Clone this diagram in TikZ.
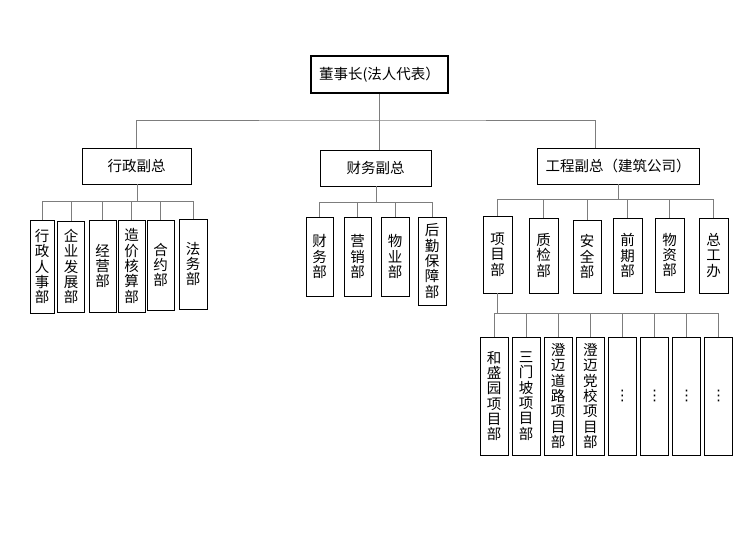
\documentclass[tikz,border=0pt]{standalone}
\usepackage{fontspec}
\setmainfont{Noto Sans CJK SC}
\newfontfamily\symfont{DejaVu Sans}
\usetikzlibrary{positioning}
\definecolor{linkGray}{RGB}{125,125,125}

\begin{document}
\begin{tikzpicture}[
    x=1pt, y=-1pt,
    node distance=3.2pt,
    chair/.style={
      rectangle, draw=black, line width=2pt, inner sep=0pt,
      minimum width=137pt, minimum height=37pt, font=\fontsize{14.5}{15.3}\selectfont
    },
    vpbox/.style={
      rectangle, draw=black, line width=0.9pt, inner sep=0pt,
      minimum height=36pt, font=\fontsize{14.5}{15.3}\selectfont
    },
    dept/.style={
      rectangle, draw=black, line width=0.9pt, inner sep=0pt, align=center,
      minimum width=27pt, font=\fontsize{14.5}{15.3}\selectfont
    },
    proj/.style={dept, minimum width=28pt, minimum height=118pt},
    more/.style={proj, font=\symfont\fontsize{14.5}{15.3}\selectfont},
    link/.style={draw=linkGray, line width=0.8pt}
  ]
    \useasboundingbox (0,0) rectangle (752,551);

    \node[chair] (chair) at (379.5,74.5) {董事长(法人代表）};

    \node[vpbox, minimum width=109pt] (vpadmin) at (136.5,166) {行政副总};
    \node[vpbox, minimum width=111pt] (vpfin) at (375.5,168) {财务副总};
    \node[vpbox, minimum width=162pt] (vpeng) at (618,166) {工程副总（建筑公司）};

    % 行政副总 departments
    \node[dept, minimum width=24pt, minimum height=93pt] (adm1) at (42,266.5) {行\\政\\人\\事\\部};
    \node[dept, minimum height=91pt] (adm2) at (71,266.5) {企\\业\\发\\展\\部};
    \node[dept, minimum height=92pt] (adm3) at (102.5,266) {经\\营\\部};
    \node[dept, minimum height=92pt] (adm4) at (131.5,266) {造\\价\\核\\算\\部};
    \node[dept, minimum height=90pt] (adm5) at (160.5,265) {合\\约\\部};
    \node[dept, minimum width=28pt, minimum height=90pt] (adm6) at (193,264) {法\\务\\部};

    % 财务副总 departments
    \node[dept, minimum height=79pt] (fin1) at (319.5,256.5) {财\\务\\部};
    \node[dept, minimum height=79pt] (fin2) at (357.5,256.5) {营\\销\\部};
    \node[dept, minimum width=28pt, minimum height=79pt] (fin3) at (395,256.5) {物\\业\\部};
    \node[dept, minimum width=28pt, minimum height=88pt] (fin4) at (432,261) {后\\勤\\保\\障\\部};

    % 工程副总 departments
    \node[dept, minimum width=29pt, minimum height=77pt] (eng1) at (497.5,254.5) {项\\目\\部};
    \node[dept, minimum width=29pt, minimum height=75pt] (eng2) at (543.5,255.5) {质\\检\\部};
    \node[dept, minimum width=28pt, minimum height=73pt] (eng3) at (587,256.5) {安\\全\\部};
    \node[dept, minimum width=29pt, minimum height=75pt] (eng4) at (627.5,255.5) {前\\期\\部};
    \node[dept, minimum width=29pt, minimum height=74pt] (eng5) at (669.5,255) {物\\资\\部};
    \node[dept, minimum width=29pt, minimum height=75pt] (eng6) at (713.5,255.5) {总\\工\\办};

    % project offices
    \node[proj] (prj1) at (494,396) {和\\盛\\园\\项\\目\\部};
    \node[proj, right=of prj1] (prj2) {三\\门\\坡\\项\\目\\部};
    \node[proj, right=of prj2] (prj3) {澄\\迈\\道\\路\\项\\目\\部};
    \node[proj, right=of prj3] (prj4) {澄\\迈\\党\\校\\项\\目\\部};
    \node[more, right=of prj4] (prj5) {⋮};
    \node[more, right=of prj5] (prj6) {⋮};
    \node[more, right=of prj6] (prj7) {⋮};
    \node[more, right=of prj7] (prj8) {⋮};

    \coordinate (topbus) at (379,120);
    \coordinate (vpengin) at (595,148);
    \coordinate (admbus) at (137,201);
    \coordinate (finbus) at (376,202);
    \coordinate (engbus) at (618,199);
    \coordinate (prjbus) at (497,313);

    \draw[link] (chair.south -| topbus) -- (vpfin.north -| topbus);
    \draw[link] (vpadmin.north) |- (topbus) -| (vpengin);

    \draw[link] (vpadmin.south -| admbus) -- (admbus);
    \draw[link] (adm1.north) |- (admbus);
    \draw[link] (adm2.north) |- (admbus);
    \draw[link] (adm3.north) |- (admbus);
    \draw[link] (adm4.north) |- (admbus);
    \draw[link] (adm5.north) |- (admbus);
    \draw[link] (adm6.north) |- (admbus);

    \draw[link] (vpfin.south -| finbus) -- (finbus);
    \draw[link] (fin1.north) |- (finbus);
    \draw[link] (fin2.north) |- (finbus);
    \draw[link] (fin3.north) |- (finbus);
    \draw[link] (fin4.north) |- (finbus);

    \draw[link] (vpeng.south) -- (engbus);
    \draw[link] (eng1.north) |- (engbus);
    \draw[link] (eng2.north) |- (engbus);
    \draw[link] (eng3.north) |- (engbus);
    \draw[link] (eng4.north) |- (engbus);
    \draw[link] (eng5.north) |- (engbus);
    \draw[link] (eng6.north) |- (engbus);

    \draw[link] (eng1.south -| prjbus) -- (prjbus);
    \draw[link] (prj1.north) |- (prjbus);
    \draw[link] (prj2.north) |- (prjbus);
    \draw[link] (prj3.north) |- (prjbus);
    \draw[link] (prj4.north) |- (prjbus);
    \draw[link] (prj5.north) |- (prjbus);
    \draw[link] (prj6.north) |- (prjbus);
    \draw[link] (prj7.north) |- (prjbus);
    \draw[link] (prj8.north) |- (prjbus);
  \end{tikzpicture}
\end{document}
